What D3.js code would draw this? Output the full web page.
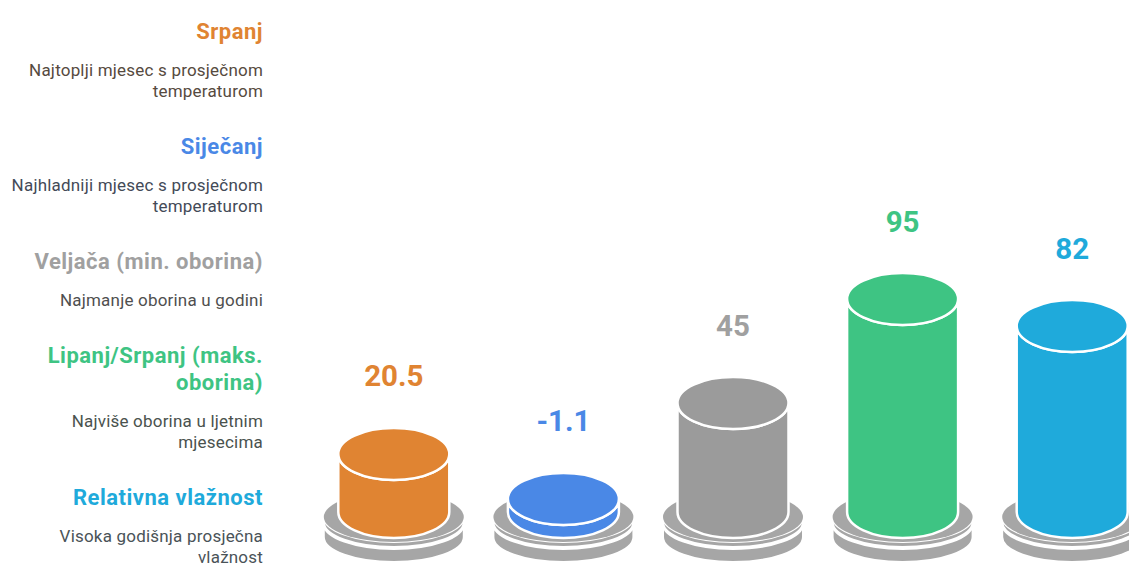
<!DOCTYPE html>
<html>
<head>
<meta charset="utf-8">
<script src="https://cdn.jsdelivr.net/npm/d3@7"></script>
<style>
  body { margin: 0; background: #fff; }
  svg { display: block; font-family: Roboto, "Noto Sans", sans-serif; }
</style>
</head>
<body>
<div id="chart"></div>
<script>
// data
var values = [20.5, -1.1, 45, 95, 82];
var valueLabels = ["20.5", "-1.1", "45", "95", "82"];
var colors = ["#E08432", "#4A88E6", "#9B9B9B", "#3EC483", "#1FAADB"];
var labelColors = ["#E08432", "#4A88E6", "#A0A0A0", "#3EC483", "#1FAADB"];
var headings = [["Srpanj"], ["Siječanj"], ["Veljača (min. oborina)"], ["Lipanj/Srpanj (maks.", "oborina)"], ["Relativna vlažnost"]];
var descriptions = [
  ["Najtoplji mjesec s prosječnom", "temperaturom"],
  ["Najhladniji mjesec s prosječnom", "temperaturom"],
  ["Najmanje oborina u godini"],
  ["Najviše oborina u ljetnim", "mjesecima"],
  ["Visoka godišnja prosječna", "vlažnost"]
];
var descColors = ["#564A40", "#434A57", "#4F4F4F", "#4A524E", "#4A5358"];

var W = 1129, H = 563;

var svg = d3.select("#chart").append("svg")
  .attr("width", W)
  .attr("height", H);

// left legend text
var legend = svg.append("g").attr("text-anchor", "end");
var y = 31;
headings.forEach(function(h, i) {
  h.forEach(function(line, j) {
    legend.append("text")
      .attr("x", 263)
      .attr("y", y + 7.5)
      .attr("fill", labelColors[i])
      .style("font-size", "22px")
      .style("letter-spacing", "0.5px")
      .style("font-weight", "bold")
      .text(line);
    if (j < h.length - 1) y += 27;
  });
  y += 38.5;
  descriptions[i].forEach(function(line, j) {
    legend.append("text")
      .attr("x", 263)
      .attr("y", y + 6)
      .attr("fill", descColors[i])
      .style("font-size", "17px")
      .style("letter-spacing", "0.2px")
      .text(line);
    if (j < descriptions[i].length - 1) y += 21;
  });
  y += 55.5;
});

// cylinders
var x = d3.scaleBand()
  .domain(d3.range(values.length))
  .range([309, 1157])
  .paddingInner(0)
  .paddingOuter(0);

var h = d3.scaleLinear().domain([-7.4, 95]).range([0, 213]);

var rx = 55.5, ry = 26, baseY = 512;
var brx = 70, bry = 25;

function cylPath(cx, r1, r2, top, bot) {
  return "M" + (cx - r1) + "," + top +
    "L" + (cx - r1) + "," + bot +
    "A" + r1 + "," + r2 + " 0 0 0 " + (cx + r1) + "," + bot +
    "L" + (cx + r1) + "," + top +
    "A" + r1 + "," + r2 + " 0 0 1 " + (cx - r1) + "," + top + "Z";
}

var g = svg.append("g");

values.forEach(function(v, i) {
  var cx = x(i) + x.bandwidth() / 2;
  var top = baseY - h(v);

  // lower base disc
  g.append("path")
    .attr("d", cylPath(cx, brx, bry, 524, 537))
    .attr("fill", "#A6A6A6")
    .attr("stroke", "#fff")
    .attr("stroke-width", 2);
  // upper base disc
  g.append("path")
    .attr("d", cylPath(cx, brx, bry, 517, 522))
    .attr("fill", "#A6A6A6")
    .attr("stroke", "#fff")
    .attr("stroke-width", 2);
  g.append("ellipse")
    .attr("cx", cx).attr("cy", 517)
    .attr("rx", brx).attr("ry", bry)
    .attr("fill", "#A6A6A6");

  // body
  g.append("path")
    .attr("d", cylPath(cx, rx, ry, top, baseY))
    .attr("fill", colors[i])
    .attr("stroke", "#fff")
    .attr("stroke-width", 2.5);
  g.append("ellipse")
    .attr("cx", cx).attr("cy", top)
    .attr("rx", rx).attr("ry", ry)
    .attr("fill", colors[i])
    .attr("stroke", "#fff")
    .attr("stroke-width", 2.5);

  // value label
  g.append("text")
    .attr("x", cx)
    .attr("y", top - 67.5)
    .attr("text-anchor", "middle")
    .attr("fill", labelColors[i])
    .style("font-size", "29.5px")
    .style("font-weight", "bold")
    .text(valueLabels[i]);
});
</script>
</body>
</html>
